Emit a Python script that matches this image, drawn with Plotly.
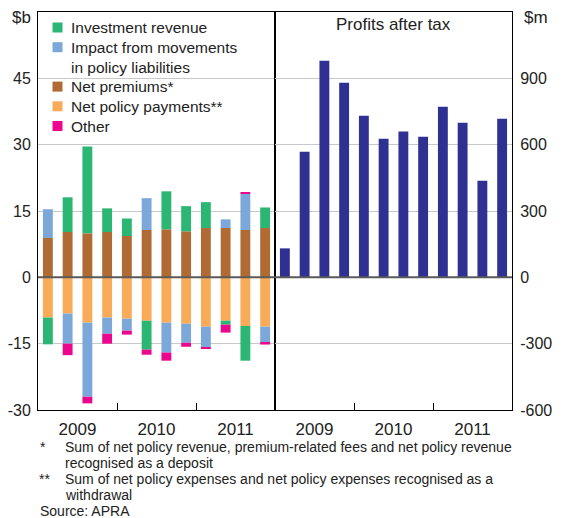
import plotly.graph_objects as go
from plotly.subplots import make_subplots

# quarterly data, Mar 2009 - Dec 2011
quarters = list(range(12))
years = ["2009", "2010", "2011"]
year_centres = [1.5, 5.5, 9.5]
year_breaks = [3.5, 7.5]

left_ticks = [-30, -15, 0, 15, 30, 45]
left_labels = ["-30", "-15", "0", "15", "30", "45"]
right_ticks = [-600, -300, 0, 300, 600, 900]
right_labels = ["-600", "-300", "0", "300", "600", "900"]

# $b
net_premiums = [8.9, 10.25, 9.95, 10.25, 9.35, 10.7, 10.85, 10.4, 11.15, 11.15, 10.7, 11.15]
net_policy_payments = [-9.1, -8.2, -10.25, -9.1, -9.35, -9.8, -10.25, -10.5, -11.15, -9.8, -11.0, -11.15]
investment_revenue = [-6.05, 7.85, 19.65, 5.35, 3.95, -6.55, 8.6, 5.7, 5.85, -0.9, -7.85, 4.65]
policy_liabilities = [6.5, -6.8, -16.75, -3.65, -2.7, 7.2, -6.75, -4.3, -4.75, 1.95, 8.15, -3.65]
other = [0, -2.6, -1.5, -2.25, -0.9, -1.15, -1.85, -0.9, -0.2, -1.8, 0.25, -0.4]

# $m
profits_after_tax = [131, 568, 979, 880, 731, 627, 659, 636, 771, 699, 437, 717]

FONT = "Liberation Sans, Arial, sans-serif"
TXT = "#222"
# the page body has an 8px margin, so the figure starts 8px in
OFF = 8
W, H = 567, 518
PL, PT, PW, PH = 38, 12, 474, 398  # plot area in screen px

fig = make_subplots(rows=1, cols=2, horizontal_spacing=0)

# trace order = stacking order
series = [
    ("Net premiums*", net_premiums, "#b06a33"),
    ("Net policy payments**", net_policy_payments, "#f9ab58"),
    ("Investment revenue", investment_revenue, "#2cb673"),
    ("Impact from movements<br>in policy liabilities", policy_liabilities, "#7ba7d9"),
    ("Other", other, "#ec068d"),
]
for name, vals, col in series:
    fig.add_trace(go.Bar(x=quarters, y=vals, name=name, marker_color=col,
                         marker_line_width=0, width=0.5, showlegend=False),
                  row=1, col=1)

fig.add_trace(go.Bar(x=quarters, y=profits_after_tax, marker_color="#2e3192",
                     marker_line_width=0, width=0.5, showlegend=False),
              row=1, col=2)

xax = dict(range=[-0.5, 11.5], tickmode="array", tickvals=year_centres, ticktext=years,
           ticks="", showgrid=False, zeroline=False, showline=True, mirror=True,
           linecolor="black", linewidth=1, ticklabelstandoff=4, automargin=False,
           tickfont=dict(size=17, color=TXT),
           minor=dict(tickmode="array", tickvals=year_breaks, ticks="inside",
                      ticklen=7, tickcolor="black", showgrid=False))
fig.update_xaxes(**xax, row=1, col=1)
fig.update_xaxes(**xax, row=1, col=2)

yax = dict(showgrid=True, gridcolor="#c8c8c8", gridwidth=1, zeroline=False,
           showline=True, mirror=True, linecolor="black", linewidth=1, ticks="",
           tickmode="array", automargin=False, tickfont=dict(size=16, color=TXT))
fig.update_yaxes(**yax, range=[-30, 60], tickvals=left_ticks, ticktext=left_labels,
                 ticklabelstandoff=3, row=1, col=1)
fig.update_yaxes(**yax, range=[-600, 1200], tickvals=right_ticks, ticktext=right_labels,
                 side="right", ticklabelstandoff=4, row=1, col=2)

# zero lines drawn over the bars
for xr, yr in [("x domain", "y"), ("x2 domain", "y2")]:
    fig.add_shape(type="line", xref=xr, yref=yr, x0=0, x1=1, y0=0, y1=0,
                  line=dict(color="#5a5a5a", width=2))


def px_x(p):
    return (p - PL) / PW


def px_y(p):
    return (PT + PH - p) / PH


# legend, drawn by hand so the spacing matches
legend_order = [2, 3, 0, 1, 4]
cursor, step = 27.5, 19.7
for i in legend_order:
    name, _, col = series[i]
    nlines = name.count("<br>") + 1
    fig.add_shape(type="rect", xref="paper", yref="paper",
                  x0=px_x(52.5), x1=px_x(62.5), y0=px_y(cursor + 5), y1=px_y(cursor - 5),
                  fillcolor=col, line_width=0)
    fig.add_annotation(xref="paper", yref="paper", x=px_x(68.5),
                       y=px_y(cursor + (nlines - 1) * step / 2), text=name,
                       showarrow=False, xanchor="left", yanchor="middle", align="left",
                       font=dict(size=15.5, color=TXT))
    cursor += nlines * step

labels = [
    dict(text="$b", x=px_x(33), xanchor="right", y=px_y(18)),
    dict(text="$m", x=px_x(522), xanchor="left", y=px_y(18)),
    dict(text="Profits after tax", x=0.75, xanchor="center", y=px_y(25)),
]
for a in labels:
    fig.add_annotation(xref="paper", yref="paper", showarrow=False, yanchor="middle",
                       font=dict(size=17, color=TXT), **a)

notes = [
    (38, 447, "*"),
    (63, 447, "Sum of net policy revenue, premium-related fees and net policy revenue"),
    (63, 463, "recognised as a deposit"),
    (37, 479, "**"),
    (63, 479, "Sum of net policy expenses and net policy expenses recognised as a"),
    (63, 495, "withdrawal"),
    (38, 511, "Source: APRA"),
]
for x, y, t in notes:
    fig.add_annotation(xref="paper", yref="paper", x=px_x(x), y=px_y(y), text=t,
                       showarrow=False, xanchor="left", yanchor="middle",
                       font=dict(size=14, color=TXT))

fig.update_layout(
    width=W, height=H,
    margin=dict(l=PL - OFF, r=W - (PL - OFF) - PW, t=PT - OFF, b=H - (PT - OFF) - PH),
    barmode="relative",
    plot_bgcolor="white", paper_bgcolor="white",
    font=dict(family=FONT, size=14, color=TXT),
    showlegend=False,
)

fig.write_html("out.html")
